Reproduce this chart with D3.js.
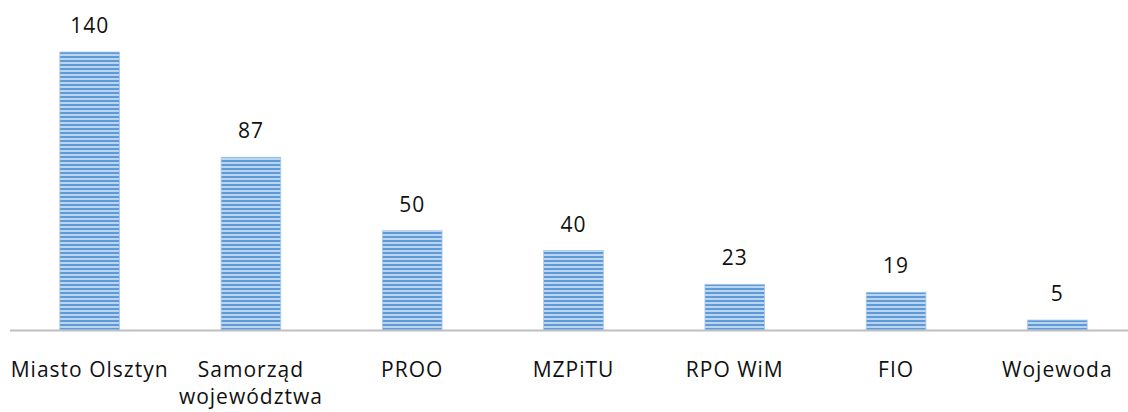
<!DOCTYPE html>
<html><head><meta charset="utf-8">
<script src="https://cdn.jsdelivr.net/npm/d3@7"></script>
<style>body{margin:0;background:#fff}</style>
</head><body>
<svg id="c" width="1128" height="412"></svg>
<script>
const categories = ["Miasto Olsztyn", "Samorząd\nwojewództwa", "PROO", "MZPiTU", "RPO WiM", "FIO", "Wojewoda"];
const values = [140, 87, 50, 40, 23, 19, 5];

const svg = d3.select("#c");
const defs = svg.append("defs");
const pat = defs.append("pattern").attr("id","stripes").attr("patternUnits","userSpaceOnUse")
  .attr("width",8).attr("height",4);
pat.append("rect").attr("width",8).attr("height",4).attr("fill","#bcd5ef");
pat.append("rect").attr("y",0).attr("width",8).attr("height",2).attr("fill","#5f9ad8");

const x = d3.scaleBand().domain(categories).range([9, 1138]).paddingInner(0.63).paddingOuter(0.315);
const y = d3.scaleLinear().domain([0, 140]).range([330, 52]);

svg.selectAll("rect.bar").data(values).join("rect").attr("class","bar")
  .attr("x",(d,i)=>x(categories[i])).attr("width",x.bandwidth())
  .attr("y",d=>y(d)).attr("height",d=>y(0)-y(d))
  .attr("fill","url(#stripes)").attr("stroke","#a9c8ea").attr("stroke-width",0.8);

svg.append("line").attr("x1",10).attr("x2",1128).attr("y1",330.5).attr("y2",330.5)
  .attr("stroke","#bfbfbf").attr("stroke-width",2);

const font = "'Open Sans', sans-serif";
svg.selectAll("text.val").data(values).join("text").attr("class","val")
  .attr("x",(d,i)=>x(categories[i])+x.bandwidth()/2).attr("y",d=>y(d)-19)
  .attr("text-anchor","middle").attr("font-family",font).attr("font-size",21).attr("fill","#111")
  .attr("letter-spacing",1)
  .text(d=>d);

const lab = svg.selectAll("text.cat").data(categories).join("text").attr("class","cat")
  .attr("x",d=>x(d)+x.bandwidth()/2).attr("y",377)
  .attr("text-anchor","middle").attr("font-family",font).attr("font-size",21).attr("fill","#111")
  .attr("letter-spacing",1);
lab.each(function(d){
  const t = d3.select(this);
  d.split("\n").forEach((s,j)=>{
    t.append("tspan").attr("x",x(d)+x.bandwidth()/2).attr("dy",j?27:0).text(s);
  });
});
</script>
</body></html>
